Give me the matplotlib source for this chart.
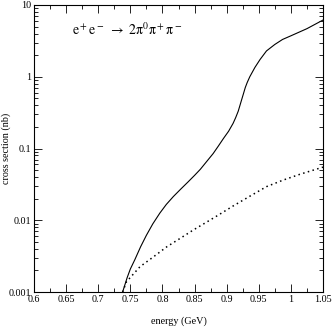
import matplotlib
matplotlib.use("Agg")
import matplotlib.pyplot as plt
import matplotlib.ticker as ticker

# 読み取り値
energy_solid = [0.738, 0.745, 0.750, 0.757, 0.766, 0.775, 0.785, 0.796, 0.806, 0.817,
                0.828, 0.840, 0.850, 0.859, 0.869, 0.879, 0.887, 0.895, 0.903, 0.910,
                0.914, 0.918, 0.923, 0.926, 0.929, 0.932, 0.936, 0.944, 0.952, 0.962,
                0.975, 0.987, 1.000, 1.025, 1.050]
sigma_solid = [0.00100, 0.00158, 0.00209, 0.00282, 0.00427, 0.00617, 0.00891, 0.0126, 0.0166, 0.0214,
               0.0269, 0.0343, 0.0422, 0.0513, 0.0661, 0.0851, 0.108, 0.138, 0.174, 0.224,
               0.269, 0.331, 0.468, 0.575, 0.708, 0.832, 1.00, 1.35, 1.74, 2.29,
               2.82, 3.31, 3.72, 4.68, 6.17]

energy_dotted = [0.738, 0.744, 0.765, 0.786, 0.807, 0.828, 0.848, 0.868, 0.887, 0.910,
                 0.936, 0.962, 0.988, 1.014, 1.050]
sigma_dotted = [0.00100, 0.00139, 0.00225, 0.00309, 0.00428, 0.00562, 0.00731, 0.00933, 0.0118, 0.0158,
                0.0216, 0.0294, 0.0363, 0.0437, 0.0550]

x_ticks = [0.6, 0.65, 0.7, 0.75, 0.8, 0.85, 0.9, 0.95, 1.0, 1.05]
x_tick_labels = ["0.6", "0.65", "0.7", "0.75", "0.8", "0.85", "0.9", "0.95", "1", "1.05"]
y_ticks = [0.001, 0.01, 0.1, 1, 10]
y_tick_labels = ["0.001", "0.01", "0.1", "1", "10"]

plt.rcParams['font.family'] = ['Liberation Serif', 'DejaVu Serif']
plt.rcParams['mathtext.fontset'] = 'stix'

fig = plt.figure(figsize=(3.32, 3.27), dpi=100)
ax = fig.add_axes([34 / 332, 1 - 292 / 327, 289 / 332, 287 / 327])

ax.plot(energy_solid, sigma_solid, color='black', linewidth=0.8)
ax.plot(energy_dotted, sigma_dotted, color='black', linewidth=1.1, linestyle=(0, (1, 2.2)))

ax.set_yscale('log')
ax.set_xlim(0.6, 1.05)
ax.set_ylim(0.001, 10)

# X軸
ax.set_xticks(x_ticks)
ax.set_xticklabels(x_tick_labels)
ax.xaxis.set_minor_locator(ticker.MultipleLocator(0.025))
# Y軸
ax.set_yticks(y_ticks)
ax.set_yticklabels(y_tick_labels)
ax.yaxis.set_minor_locator(ticker.LogLocator(base=10, subs=range(2, 10)))
ax.yaxis.set_minor_formatter(ticker.NullFormatter())

ax.tick_params(which='both', direction='in', top=True, right=True, labelsize=7.3, pad=2)
ax.tick_params(which='major', length=6, width=0.6)
ax.tick_params(which='minor', length=3, width=0.6)
for s in ax.spines.values():
    s.set_linewidth(0.8)

ax.set_xlabel('energy (GeV)', fontsize=7.3)
ax.xaxis.set_label_coords(0.5, -0.085)
ax.set_ylabel('cross section (nb)', fontsize=7.3)
ax.yaxis.set_label_coords(-0.078, 0.5)

ax.text(0.13, 0.895, r'$\mathrm{e^+e^-\ \rightarrow\ 2\pi^0\pi^+\pi^-}$',
        transform=ax.transAxes, fontsize=10)

fig.savefig('out.png', dpi=100)
